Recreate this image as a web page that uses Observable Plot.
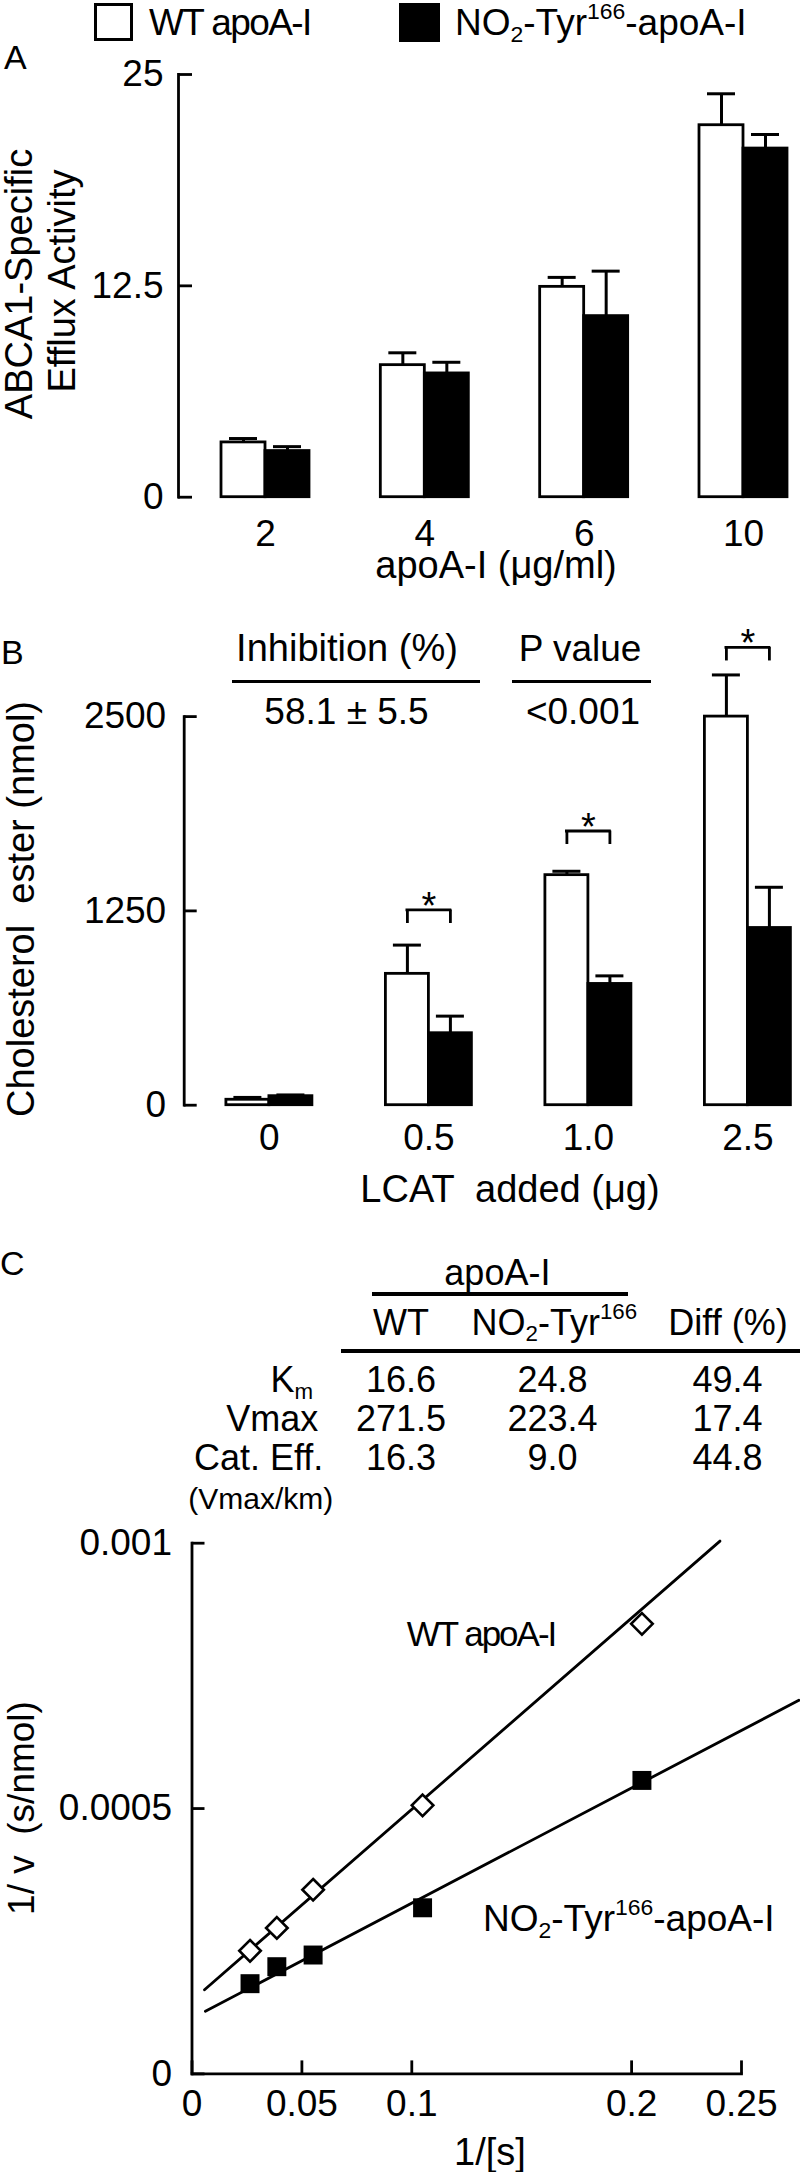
<!DOCTYPE html>
<html><head><meta charset="utf-8">
<script src="https://cdn.jsdelivr.net/npm/d3@7"></script>
<script src="https://cdn.jsdelivr.net/npm/@observablehq/plot@0.6"></script>
<style>
body{margin:0;background:#fff;}
#root{position:relative;width:800px;height:2172px;overflow:hidden;font-family:"Liberation Sans",Arial,sans-serif;color:#000;background:#fff;}
.t{position:absolute;white-space:pre;line-height:1;}
.sub{font-size:0.62em;position:relative;top:0.3em;}
.sup{font-size:0.62em;position:relative;top:-0.68em;}
.ln{position:absolute;background:#000;}
#root svg{position:absolute;left:0;overflow:visible;background:transparent;}
</style></head><body><div id="root"></div>
<script>
// ---------- Panel A data ----------
const groupsA = ["2", "4", "6", "10"];
const wtA = [3.24, 7.81, 12.44, 22.0];
const wtErrA = [0.23, 0.73, 0.56, 1.86];
const no2A = [2.73, 7.32, 10.71, 20.62];
const no2ErrA = [0.26, 0.66, 2.66, 0.83];
const ticksA = [0, 12.5, 25];

// ---------- Panel B data ----------
const groupsB = ["0", "0.5", "1.0", "2.5"];
const wtB = [35, 845, 1480, 2500];
const wtErrB = [15, 185, 25, 268];
const no2B = [58, 463, 780, 1140];
const no2ErrB = [8, 110, 52, 262];
const sigGroupsB = ["0.5", "1.0", "2.5"];
const sigLevelB = [1256, 1764, 2945];
const ticksB = [0, 1250, 2500];

// ---------- Panel C data ----------
const invS = [0.0264, 0.0386, 0.0551, 0.1049, 0.2047];
const wtInvV = [0.000232, 0.000275, 0.000347, 0.000506, 0.000848];
const no2InvV = [0.000170, 0.000202, 0.000224, 0.000313, 0.000553];
const wtFitX = [0.0057, 0.2402];
const wtFitY = [0.0001585, 0.001004];
const no2FitX = [0.0061, 0.2761];
const no2FitY = [0.000118, 0.000704];
const ticksCx = [0, 0.05, 0.1, 0.2, 0.25];
const ticksCy = [0, 0.0005, 0.001];

// ---------- table (panel C) ----------
const tableRows = ["K<span class=\"sub\">m</span>", "Vmax", "Cat. Eff."];
const tableWT = ["16.6", "271.5", "16.3"];
const tableNO2 = ["24.8", "223.4", "9.0"];
const tableDiff = ["49.4", "17.4", "44.8"];

const FONT = "Liberation Sans, Arial, sans-serif";
const LW = 2.8;   // axis / outline width
const EW = 3;     // error bar width
const root = document.getElementById("root");

function place(svg, top) { svg.style.top = top + "px"; root.appendChild(svg); }

function barPanel(o) {
  const rows = o.groups.map((g, i) => ({g, wt: o.wt[i], wtE: o.wtErr[i], no2: o.no2[i], no2E: o.no2Err[i]}));
  const bw = o.bw, half = bw / 2, capIn = (half - o.cap) / 2;
  const stepReal = (o.range[1] - o.range[0] - bw) / (o.groups.length - 1);
  const marks = [
    Plot.barY(rows, {x: "g", y: "wt", fill: "white", stroke: "black", strokeWidth: LW, insetRight: half}),
    Plot.barY(rows, {x: "g", y: "no2", fill: "black", stroke: "black", strokeWidth: LW, insetLeft: half}),
    Plot.ruleX(rows, {x: "g", y1: "wt", y2: d => d.wt + d.wtE, dx: -bw / 4, strokeWidth: EW}),
    Plot.ruleY(rows, {x1: "g", x2: "g", y: d => d.wt + d.wtE, insetLeft: capIn, insetRight: half + capIn, strokeWidth: EW}),
    Plot.ruleX(rows, {x: "g", y1: "no2", y2: d => d.no2 + d.no2E, dx: bw / 4, strokeWidth: EW}),
    Plot.ruleY(rows, {x1: "g", x2: "g", y: d => d.no2 + d.no2E, insetLeft: half + capIn, insetRight: capIn, strokeWidth: EW}),
    Plot.frame({anchor: "left", strokeWidth: LW}),
    Plot.axisY(o.yTicks, {anchor: "left", tickSize: -o.tick, tickPadding: o.yPad, strokeWidth: LW, fontSize: 37, tickFormat: d => String(d)}),
    Plot.axisX({anchor: "bottom", tickSize: 0, tickPadding: o.xPad, fontSize: 37, label: null})
  ];
  if (o.extra) marks.push(...o.extra(bw));
  return Plot.plot({
    width: 800, height: o.height,
    marginLeft: o.axisX, marginRight: 0, marginTop: o.marginTop, marginBottom: o.marginBottom,
    style: {fontFamily: FONT, fontSize: "37px", background: "transparent", color: "black", overflow: "visible"},
    x: {domain: o.groups, range: o.range, paddingInner: 1 - bw / stepReal, paddingOuter: 0, align: 0.5, round: false, label: null},
    y: {domain: o.yDomain, label: null},
    marks
  });
}

// Panel A
place(barPanel({
  groups: groupsA, wt: wtA, wtErr: wtErrA, no2: no2A, no2Err: no2ErrA,
  bw: 88, cap: 28, range: [221, 787], yDomain: [0, 25], yTicks: ticksA,
  height: 600, marginTop: 74, marginBottom: 103.3, axisX: 178, tick: 14, yPad: 29, xPad: 22.3
}), 0);

// Panel B
const sig = sigGroupsB.map((g, i) => ({g, level: sigLevelB[i]}));
const legB = 87;
place(barPanel({
  groups: groupsB, wt: wtB, wtErr: wtErrB, no2: no2B, no2Err: no2ErrB,
  bw: 86, cap: 28, range: [225.9, 790.4], yDomain: [0, 2500], yTicks: ticksB,
  height: 625, marginTop: 116.1, marginBottom: 120.3, axisX: 183.7, tick: 13, yPad: 31, xPad: 19,
  extra: bw => [
    Plot.ruleY(sig, {x1: "g", x2: "g", y: "level", insetLeft: bw / 4, insetRight: bw / 4, strokeWidth: LW, strokeLinecap: "square"}),
    Plot.ruleX(sig, {x: "g", y1: d => d.level - legB, y2: "level", dx: -bw / 4, strokeWidth: LW}),
    Plot.ruleX(sig, {x: "g", y1: d => d.level - legB, y2: "level", dx: bw / 4, strokeWidth: LW}),
    Plot.text(sig, {x: "g", y: "level", text: () => "*", dy: -3.4, fontSize: 38})
  ]
}), 600);

// Panel C
const wtPts = invS.map((x, i) => ({x, y: wtInvV[i]}));
const no2Pts = invS.map((x, i) => ({x, y: no2InvV[i]}));
const wtFit = wtFitX.map((x, i) => ({x, y: wtFitY[i]}));
const no2Fit = no2FitX.map((x, i) => ({x, y: no2FitY[i]}));
place(Plot.plot({
  width: 800, height: 947, marginLeft: 191.5, marginRight: 59, marginTop: 317.7, marginBottom: 98.6,
  style: {fontFamily: FONT, fontSize: "37px", background: "transparent", color: "black", overflow: "visible"},
  x: {domain: [0, 0.25], label: null},
  y: {domain: [0, 0.001], label: null},
  marks: [
    Plot.line(wtFit, {x: "x", y: "y", stroke: "black", strokeWidth: LW}),
    Plot.line(no2Fit, {x: "x", y: "y", stroke: "black", strokeWidth: LW}),
    Plot.dot(wtPts, {x: "x", y: "y", symbol: "diamond2", r: 9.7, fill: "white", stroke: "black", strokeWidth: 2.6}),
    Plot.dot(no2Pts, {x: "x", y: "y", symbol: "square", r: 10.7, fill: "black", stroke: "none"}),
    Plot.frame({anchor: "left", strokeWidth: LW}),
    Plot.frame({anchor: "bottom", strokeWidth: LW}),
    Plot.axisX(ticksCx, {anchor: "bottom", tickSize: -13, tickPadding: 28.4, strokeWidth: LW, fontSize: 37, tickFormat: d => String(d), label: null}),
    Plot.axisY(ticksCy, {anchor: "left", tickSize: -13, tickPadding: 33, strokeWidth: LW, fontSize: 37, tickFormat: d => String(d), label: null})
  ]
}), 1225);

// ---------- HTML text & decorations ----------
function txt(html, x, y, {anchor = "middle", size = 37, rotate = false, ls = 0} = {}) {
  const d = document.createElement("div");
  d.className = "t";
  d.innerHTML = html;
  d.style.left = x + "px";
  d.style.top = y + "px";
  d.style.fontSize = size + "px";
  if (ls) d.style.letterSpacing = ls + "px";
  const tx = anchor === "start" ? "0" : anchor === "end" ? "-100%" : "-50%";
  d.style.transform = `translate(${tx},-50%)` + (rotate ? " rotate(-90deg)" : "");
  root.appendChild(d);
}
function hline(x1, x2, y, w = 3.3) {
  const d = document.createElement("div");
  d.className = "ln";
  Object.assign(d.style, {left: x1 + "px", width: (x2 - x1) + "px", top: (y - w / 2) + "px", height: w + "px"});
  root.appendChild(d);
}
function box(x, y, w, h, fill) {
  const d = document.createElement("div");
  Object.assign(d.style, {position: "absolute", left: x + "px", top: y + "px", width: w + "px", height: h + "px",
    boxSizing: "border-box", border: "3px solid #000", background: fill});
  root.appendChild(d);
}
const NO2 = "NO<span class=\"sub\">2</span>-Tyr<span class=\"sup\">166</span>";

// legend
box(94, 3, 38.5, 38, "#fff");
txt("WT apoA-I", 149, 22, {anchor: "start", size: 37, ls: -1.6});
box(399, 3, 41, 39, "#000");
txt(NO2 + "-apoA-I", 455, 22, {anchor: "start", size: 37});

// panel A
txt("A", 4, 57, {anchor: "start", size: 34});
txt("ABCA1-Specific", 19, 283.5, {rotate: true, size: 38});
txt("Efflux Activity", 61.5, 281, {rotate: true, size: 38});
txt("apoA-I (μg/ml)", 496, 565, {size: 38});

// panel B
txt("B", 1, 652, {anchor: "start", size: 34});
txt("Cholesterol  ester (nmol)", 20.5, 909, {rotate: true, size: 38});
txt("LCAT  added (μg)", 510, 1189, {size: 38});
txt("Inhibition (%)", 347, 648, {size: 38});
hline(232, 480, 681.7);
txt("58.1 ± 5.5", 346.5, 711, {size: 37});
txt("P value", 580, 648, {size: 37});
hline(511.7, 650.7, 681.7);
txt("&lt;0.001", 583, 711, {size: 37});

// panel C
txt("C", 0, 1263, {anchor: "start", size: 34});
txt("apoA-I", 497.4, 1273, {size: 36});
hline(372.4, 628, 1294, 3.6);
txt("WT", 401, 1322.5, {size: 36});
txt(NO2, 554.3, 1322.5, {size: 36});
txt("Diff (%)", 728, 1322.5, {size: 36});
hline(341, 800, 1351, 3.6);
const rowY = [1380, 1419, 1458];
const rowRight = [313, 318.3, 323.3];
tableRows.forEach((r, i) => {
  txt(r, rowRight[i], rowY[i], {anchor: "end", size: 36});
  txt(tableWT[i], 401, rowY[i], {size: 36});
  txt(tableNO2[i], 552.5, rowY[i], {size: 36});
  txt(tableDiff[i], 727.5, rowY[i], {size: 36});
});
txt("(Vmax/km)", 333.3, 1499, {anchor: "end", size: 30});
txt("WT apoA-I", 481, 1633, {size: 35, ls: -2});
txt(NO2 + "-apoA-I", 483, 1918, {anchor: "start", size: 37});
txt("1/ v  (s/nmol)", 21, 1808, {rotate: true, size: 37});
txt("1/[s]", 490, 2152, {size: 38});
</script>
</body></html>
